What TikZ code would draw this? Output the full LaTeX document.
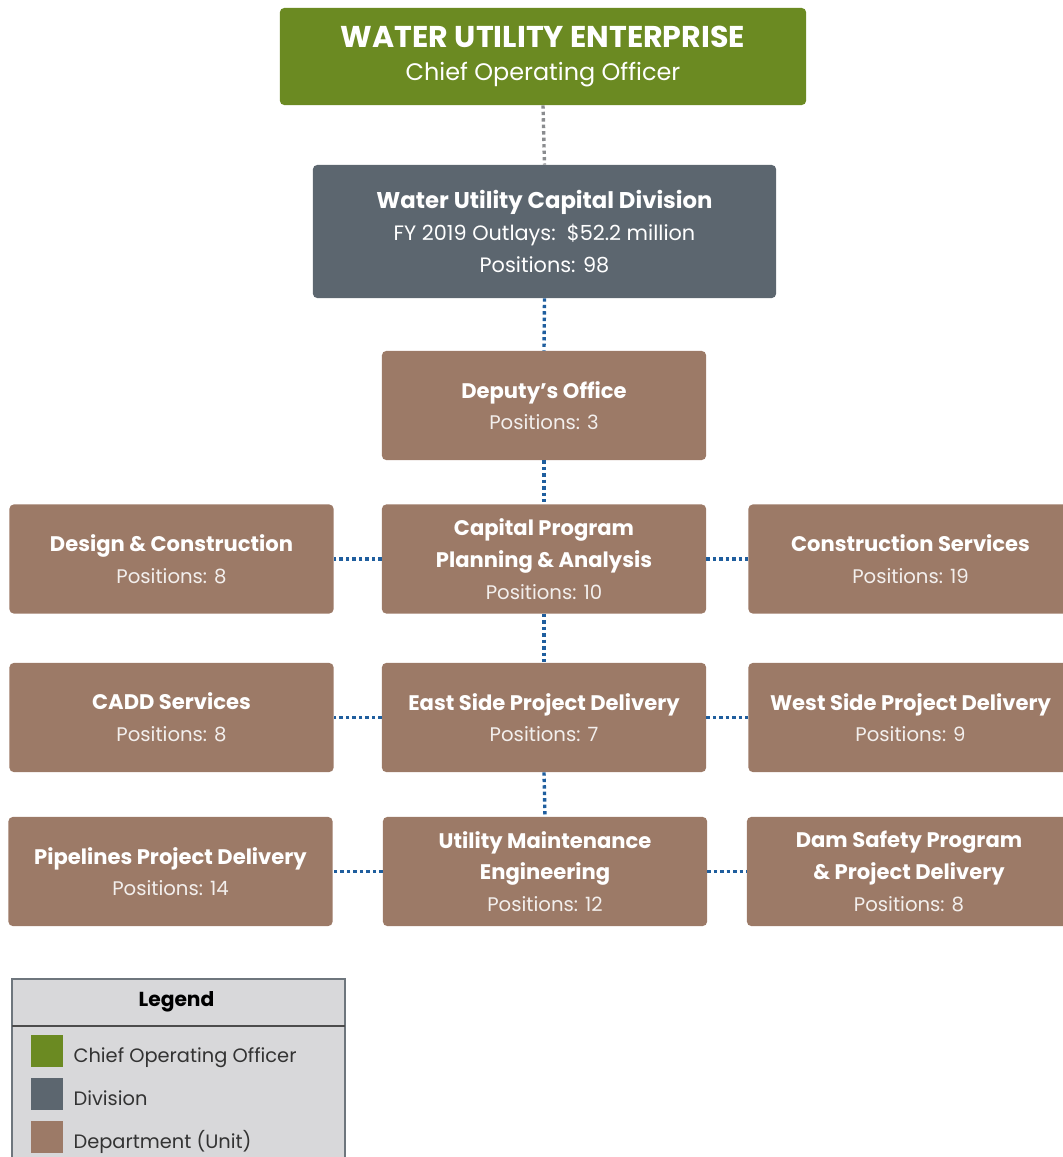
\documentclass[tikz,border=0pt]{standalone}
\usepackage{fontspec}
\setmainfont{Poppins}
\usetikzlibrary{positioning}
\definecolor{cooGreen}{HTML}{6B8A22}
\definecolor{divGray}{HTML}{5C666F}
\definecolor{unitBrown}{HTML}{9C7A67}
\definecolor{linkBlue}{HTML}{1F5E9E}
\definecolor{linkGray}{HTML}{8A8C8F}
\definecolor{legendBg}{HTML}{D8D8DA}
\definecolor{legendLine}{HTML}{6E767D}
\newcommand{\unitname}[1]{{\bfseries\fontsize{15}{22}\selectfont #1}}
\newcommand{\unitpos}[1]{{\color{white!88!unitBrown}\fontsize{14}{22}\selectfont #1}}
\begin{document}
\begin{tikzpicture}[x=0.025cm, y=-0.025cm,
    every node/.style={inner sep=0pt},
    unit/.style={fill=unitBrown, text=white, rounded corners=3pt, align=center,
      minimum width=8.1cm, minimum height=2.725cm, font=\fontsize{15}{22.5}\selectfont},
    link/.style={linkBlue, line width=2.4pt, dash pattern=on 2.4pt off 2.2pt},
    swatch/.style={minimum width=0.8cm, minimum height=0.8cm}]

  \useasboundingbox (0,0) rectangle (1063,1157);

  % top of the tree
  \node[fill=cooGreen, text=white, rounded corners=3pt, align=center,
    minimum width=13.15cm, minimum height=2.425cm, font=\fontsize{17}{23}\selectfont] (coo) at (543,56.5)
    {{\bfseries\fontsize{21.4}{23}\selectfont WATER UTILITY ENTERPRISE}\\
     {\fontsize{17}{23}\selectfont Chief Operating Officer}};

  \node[fill=divGray, text=white, rounded corners=3pt, align=center,
    minimum width=11.575cm, minimum height=3.325cm, font=\fontsize{14.8}{23}\selectfont] (div) at (544.5,231.5)
    {{\bfseries\fontsize{16.2}{23}\selectfont Water Utility Capital Division}\\
     {\fontsize{14.8}{23}\selectfont FY 2019 Outlays:\ \ \$52.2 million}\\
     {\fontsize{14.8}{23}\selectfont Positions: 98}};

  \node[unit] (deputy) at (544,405.5) {\unitname{Deputy’s Office}\\ \unitpos{Positions: 3}};

  % units
  \node[unit] (design) at (171.5,559) {\unitname{Design \& Construction}\\ \unitpos{Positions: 8}};
  \node[unit] (cpp) at (544,559) {\unitname{Capital Program}\\ \unitname{Planning \& Analysis}\\ \unitpos{Positions: 10}};
  \node[unit] (constr) at (910.5,559) {\unitname{Construction Services}\\ \unitpos{Positions: 19}};

  \node[unit] (cadd) at (171.5,717.5) {\unitname{CADD Services}\\ \unitpos{Positions: 8}};
  \node[unit] (east) at (544,717.5) {\unitname{East Side Project Delivery}\\ \unitpos{Positions: 7}};
  \node[unit] (west) at (910.5,717.5) {\unitname{West Side Project Delivery}\\ \unitpos{Positions: 9}};

  \node[unit] (pipe) at (170.5,871.5) {\unitname{Pipelines Project Delivery}\\ \unitpos{Positions: 14}};
  \node[unit] (ume) at (545,871.5) {\unitname{Utility Maintenance}\\ \unitname{Engineering}\\ \unitpos{Positions: 12}};
  \node[unit] (dam) at (909,871.5) {\unitname{Dam Safety Program}\\ \unitname{\& Project Delivery}\\ \unitpos{Positions: 8}};

  % connectors
  \draw[link, linkGray] (coo.south) -- (div.north);
  \draw[link] (div.south) -- (deputy.north);
  \draw[link] (deputy.south) -- (cpp.north);
  \draw[link] (cpp.south) -- (east.north);
  \draw[link] (east.south) -- (ume.north);
  \foreach \mid/\l/\r in {cpp/design/constr, east/cadd/west, ume/pipe/dam}{
    \draw[link] (\mid.west) -- (\l.east);
    \draw[link] (\mid.east) -- (\r.west);
  }

  % legend
  \draw[legendLine, fill=legendBg, line width=1pt] (12,979) rectangle (345,1170);
  \draw[black!70, line width=1pt] (12,1026) -- (345,1026);
  \node[font=\bfseries\fontsize{14.4}{18}\selectfont] (legend) at (176.5,1002) {Legend};
  \foreach \col/\txt/\yy in {cooGreen/Chief Operating Officer/1051, divGray/Division/1094, unitBrown/Department (Unit)/1137}{
    \node[swatch, fill=\col] (sw-\yy) at (47,\yy) {};
    \node[anchor=base west, text=black!80, font=\fontsize{13.8}{18}\selectfont]
      at ([xshift=0.25cm, yshift=-0.28cm]sw-\yy.east) {\txt};
  }
\end{tikzpicture}
\end{document}
